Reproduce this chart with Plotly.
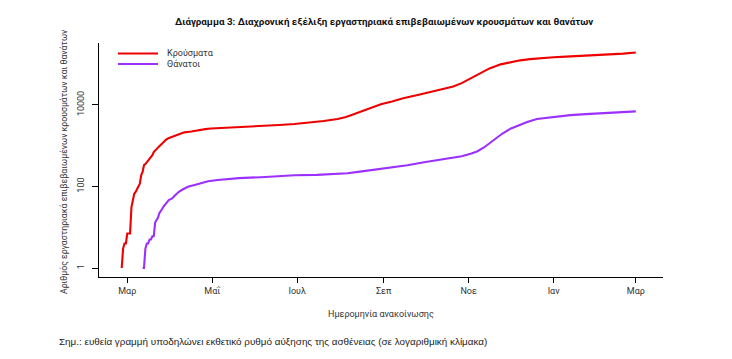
import plotly.graph_objects as go

# ---- data ----
case_dates = ["2020-02-26", "2020-02-27", "2020-02-28", "2020-02-29", "2020-03-01", "2020-03-02",
              "2020-03-03", "2020-03-04", "2020-03-05", "2020-03-06", "2020-03-07", "2020-03-08",
              "2020-03-09", "2020-03-10", "2020-03-11", "2020-03-12", "2020-03-13", "2020-03-14",
              "2020-03-15", "2020-03-16", "2020-03-17", "2020-03-18", "2020-03-19", "2020-03-20",
              "2020-03-21", "2020-03-22", "2020-03-23", "2020-03-24", "2020-03-25", "2020-03-26",
              "2020-03-27", "2020-03-28", "2020-03-29", "2020-03-31", "2020-04-03", "2020-04-07",
              "2020-04-11", "2020-04-16", "2020-04-21", "2020-04-26", "2020-04-30", "2020-05-10",
              "2020-05-24", "2020-06-05", "2020-06-18", "2020-06-29", "2020-07-10", "2020-07-20",
              "2020-07-30", "2020-08-05", "2020-08-11", "2020-08-18", "2020-08-24", "2020-08-30",
              "2020-09-07", "2020-09-15", "2020-09-27", "2020-10-05", "2020-10-14", "2020-10-21",
              "2020-10-27", "2020-10-31", "2020-11-05", "2020-11-10", "2020-11-16", "2020-11-24",
              "2020-12-01", "2020-12-08", "2020-12-15", "2020-12-22", "2021-01-01", "2021-01-10",
              "2021-01-20", "2021-01-31", "2021-02-10", "2021-02-20", "2021-03-01"]
cases = [1, 3, 4, 4, 7, 7,
         7, 31, 46, 66, 73, 89,
         99, 117, 190, 228, 331, 352,
         387, 418, 464, 495, 580, 695,
         743, 821, 892, 966, 1061, 1156,
         1212, 1314, 1415, 1545, 1673, 1832,
         2114, 2224, 2401, 2534, 2620, 2710,
         2882, 2980, 3203, 3390, 3670, 4007,
         4477, 5000, 5942, 7300, 8700, 10300,
         12000, 14400, 18000, 21000, 24500, 28000,
         34000, 40000, 48000, 60000, 78000, 98000,
         110000, 123000, 132000, 140000, 146000, 152000,
         158000, 165000, 171000, 180000, 192000]

death_dates = ["2020-03-12", "2020-03-13", "2020-03-14", "2020-03-15", "2020-03-16", "2020-03-17",
               "2020-03-18", "2020-03-19", "2020-03-20", "2020-03-21", "2020-03-22", "2020-03-23",
               "2020-03-24", "2020-03-25", "2020-03-26", "2020-03-27", "2020-03-28", "2020-03-29",
               "2020-03-30", "2020-03-31", "2020-04-02", "2020-04-04", "2020-04-07", "2020-04-10",
               "2020-04-14", "2020-04-19", "2020-04-24", "2020-04-28", "2020-05-05", "2020-05-12",
               "2020-05-20", "2020-06-05", "2020-06-18", "2020-06-29", "2020-07-15", "2020-08-06",
               "2020-08-15", "2020-08-30", "2020-09-10", "2020-09-18", "2020-09-30", "2020-10-15",
               "2020-10-27", "2020-11-03", "2020-11-07", "2020-11-12", "2020-11-19", "2020-11-25",
               "2020-12-01", "2020-12-07", "2020-12-13", "2020-12-20", "2020-12-27", "2021-01-05",
               "2021-01-13", "2021-01-24", "2021-02-03", "2021-02-15", "2021-03-01"]
deaths = [1, 1, 3, 4, 4, 5,
          5, 6, 6, 13, 15, 17,
          22, 26, 28, 32, 36, 38,
          43, 47, 50, 59, 74, 85,
          99, 110, 123, 134, 144, 150,
          160, 168, 180, 188, 192, 210,
          230, 270, 300, 330, 390, 480,
          550, 640, 720, 900, 1370, 1950,
          2600, 3150, 3800, 4500, 4850, 5300,
          5600, 5900, 6100, 6450, 6900]

tick_dates = ["2020-03-01", "2020-05-01", "2020-07-01", "2020-09-01", "2020-11-01", "2021-01-01", "2021-03-01"]
tick_labels = ["Μαρ", "Μαΐ", "Ιουλ", "Σεπ", "Νοε", "Ιαν", "Μαρ"]
y_ticks = [1, 100, 10000]
y_tick_labels = ["1", "100", "10000"]

series_names = ["Κρούσματα", "Θάνατοι"]
series_colors = ["#EE0000", "#9B30FF"]

title_text = "Διάγραμμα 3: Διαχρονική εξέλιξη εργαστηριακά επιβεβαιωμένων κρουσμάτων και θανάτων"
y_title = "Αριθμός εργαστηριακά επιβεβαιωμένων κρουσμάτων και θανάτων"
x_title = "Ημερομηνία ανακοίνωσης"
note_text = "Σημ.: ευθεία γραμμή υποδηλώνει εκθετικό ρυθμό αύξησης της ασθένειας (σε λογαριθμική κλίμακα)"

# ---- figure ----
W, H = 732, 359
L, R, T, B = 99, 69, 43, 82
pw = W - L - R
ph = H - T - B


def px_x(p):
    return (p - L) / pw


def px_y(p):
    return (H - B - p) / ph


fig = go.Figure()
for dts, vals, name, col in [(case_dates, cases, series_names[0], series_colors[0]),
                             (death_dates, deaths, series_names[1], series_colors[1])]:
    fig.add_trace(go.Scatter(x=dts, y=vals, mode="lines", name=name, showlegend=False,
                             line=dict(color=col, width=2.1)))

font_main = "Roboto, 'Noto Sans', sans-serif"
fig.update_layout(
    width=W, height=H,
    margin=dict(l=L, r=R, t=T, b=B, pad=0),
    paper_bgcolor="white", plot_bgcolor="white",
    font=dict(family=font_main, size=9, color="#333333"),
    showlegend=False,
    xaxis=dict(type="date", range=["2020-02-09 17:00", "2021-03-20 12:00"],
               tickvals=tick_dates, ticktext=tick_labels,
               showline=True, linecolor="black", linewidth=1,
               ticks="outside", ticklen=5, tickcolor="black", tickwidth=1,
               showgrid=False, zeroline=False, tickfont=dict(size=9, color="#333333"),
               fixedrange=True),
    yaxis=dict(type="log", range=[-0.22, 5.515],
               tickvals=y_ticks, ticktext=y_tick_labels, tickangle=-90,
               showline=True, linecolor="black", linewidth=1,
               ticks="outside", ticklen=6, tickcolor="black", tickwidth=1,
               ticklabelstandoff=4,
               showgrid=False, zeroline=False, tickfont=dict(size=9, color="#333333"),
               fixedrange=True),
)

# legend (drawn by hand to match placement)
leg_y = [53.5, 64]
for i in range(2):
    fig.add_shape(type="line", xref="paper", yref="paper",
                  x0=px_x(118), x1=px_x(158), y0=px_y(leg_y[i]), y1=px_y(leg_y[i]),
                  line=dict(color=series_colors[i], width=2.1))
    fig.add_annotation(text=series_names[i], xref="paper", yref="paper",
                       x=px_x(165), y=px_y(leg_y[i]), xanchor="left", yanchor="middle",
                       showarrow=False, font=dict(size=9, color="#333333"))

fig.add_annotation(text="<b>" + title_text + "</b>", xref="paper", yref="paper",
                   x=px_x(384), y=px_y(22), xanchor="center", yanchor="middle",
                   showarrow=False, font=dict(size=9.8, color="#111111", family=font_main))
fig.add_annotation(text=y_title, xref="paper", yref="paper", textangle=-90,
                   x=px_x(63.5), y=px_y(161.5), xanchor="center", yanchor="middle",
                   showarrow=False, font=dict(size=8.7, color="#333333", family=font_main))
fig.add_annotation(text=x_title, xref="paper", yref="paper",
                   x=px_x(381), y=px_y(313.5), xanchor="center", yanchor="middle",
                   showarrow=False, font=dict(size=9, color="#333333", family=font_main))
fig.add_annotation(text=note_text, xref="paper", yref="paper",
                   x=px_x(57), y=px_y(341.5), xanchor="left", yanchor="middle",
                   showarrow=False, font=dict(size=9.9, color="#222222",
                                              family="'Liberation Sans', Arial, sans-serif"))

fig.write_html("out.html", config={"displayModeBar": False},
               post_script="document.body.style.margin='0px';document.body.style.padding='0px';")
